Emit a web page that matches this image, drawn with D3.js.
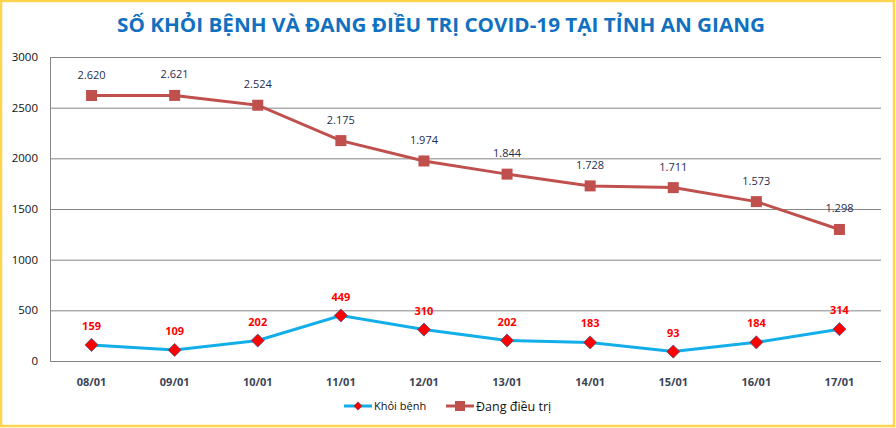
<!DOCTYPE html>
<html>
<head>
<meta charset="utf-8">
<script src="https://cdn.jsdelivr.net/npm/d3@7"></script>
<style>
body { margin: 0; background: #fff; }
svg { display: block; }
</style>
</head>
<body>
<svg id="chart" width="896" height="428"></svg>
<script>
const days = ['08/01','09/01','10/01','11/01','12/01','13/01','14/01','15/01','16/01','17/01'];
const recovered = [159, 109, 202, 449, 310, 202, 183, 93, 184, 314];
const treating = [2620, 2621, 2524, 2175, 1974, 1844, 1728, 1711, 1573, 1298];
const yTicks = [0, 500, 1000, 1500, 2000, 2500, 3000];

const svg = d3.select('#chart');
const W = 896, H = 428;
const margin = {top: 57, right: 15, bottom: 67, left: 50};

// yellow frame
svg.append('rect')
	.attr('x', 1).attr('y', 1)
	.attr('width', W - 3).attr('height', H - 3)
	.style('fill', '#fff')
	.style('stroke', '#FFD54F')
	.style('stroke-width', 2.5);

svg.append('text')
	.attr('x', 441).attr('y', 32)
	.style('text-anchor', 'middle')
	.style('font-family', 'Open Sans, sans-serif')
	.style('font-weight', 'bold')
	.style('font-size', '20px')
	.style('fill', '#1170C0')
	.attr('textLength', 648)
	.attr('lengthAdjust', 'spacingAndGlyphs')
	.text('SỐ KHỎI BỆNH VÀ ĐANG ĐIỀU TRỊ COVID-19 TẠI TỈNH AN GIANG');

const x = d3.scaleBand()
	.domain(days)
	.range([margin.left, W - margin.right]);

const y = d3.scaleLinear()
	.domain([0, 3000])
	.range([H - margin.bottom, margin.top]);

const cx = function(d, i){ return x(days[i]) + x.bandwidth() / 2 };

// grid
svg.append('g')
	.selectAll('line')
	.data(yTicks)
	.enter().append('line')
	.attr('x1', margin.left).attr('x2', W - margin.right)
	.attr('y1', function(d){ return y(d) + 0.5 })
	.attr('y2', function(d){ return y(d) + 0.5 })
	.style('stroke', '#868686')
	.style('stroke-width', 1);

svg.append('line')
	.attr('x1', margin.left + 0.5).attr('x2', margin.left + 0.5)
	.attr('y1', y(3000)).attr('y2', y(0))
	.style('stroke', '#868686');

// y labels
svg.append('g')
	.selectAll('text')
	.data(yTicks)
	.enter().append('text')
	.attr('x', 38)
	.attr('y', function(d){ return y(d) + 4 })
	.style('text-anchor', 'end')
	.style('font-family', 'Open Sans, sans-serif')
	.style('font-size', '11.5px')
	.style('fill', '#111')
	.text(function(d){ return d });

// x labels
svg.append('g')
	.selectAll('text')
	.data(days)
	.enter().append('text')
	.attr('x', function(d){ return x(d) + x.bandwidth() / 2 })
	.attr('y', 386)
	.style('text-anchor', 'middle')
	.style('font-family', 'Open Sans, sans-serif')
	.style('font-weight', 'bold')
	.style('font-size', '11px')
	.style('fill', '#3b4455')
	.text(function(d){ return d });

const line = d3.line()
	.x(cx)
	.y(function(d){ return y(d) });

// treating series
svg.append('path')
	.datum(treating)
	.attr('d', line)
	.style('fill', 'none')
	.style('stroke', '#C0504D')
	.style('stroke-width', 3);

svg.append('g')
	.selectAll('rect')
	.data(treating)
	.enter().append('rect')
	.attr('x', function(d, i){ return cx(d, i) - 5.5 })
	.attr('y', function(d){ return y(d) - 5.5 })
	.attr('width', 11).attr('height', 11)
	.style('fill', '#C0504D');

svg.append('g')
	.selectAll('text')
	.data(treating)
	.enter().append('text')
	.attr('x', cx)
	.attr('y', function(d){ return y(d) - 17 })
	.style('text-anchor', 'middle')
	.style('font-family', 'Open Sans, sans-serif')
	.style('font-size', '11px')
	.style('fill', '#1F2D4D')
	.text(function(d){ return d3.format(',')(d).replace(',', '.') });

// recovered series
svg.append('path')
	.datum(recovered)
	.attr('d', line)
	.style('fill', 'none')
	.style('stroke', '#12AEEA')
	.style('stroke-width', 3);

const diamond = d3.symbol().type(d3.symbolDiamond2).size(110);

svg.append('g')
	.selectAll('path')
	.data(recovered)
	.enter().append('path')
	.attr('d', diamond)
	.attr('transform', function(d, i){ return 'translate(' + cx(d, i) + ',' + y(d) + ')' })
	.style('fill', '#FF0000')
	.style('stroke', '#4A5A8A')
	.style('stroke-width', 0.8);

svg.append('g')
	.selectAll('text')
	.data(recovered)
	.enter().append('text')
	.attr('x', cx)
	.attr('y', function(d){ return y(d) - 15 })
	.style('text-anchor', 'middle')
	.style('font-family', 'Open Sans, sans-serif')
	.style('font-weight', 'bold')
	.style('font-size', '11px')
	.style('fill', '#FF0000')
	.text(function(d){ return d });

// legend
const lg = svg.append('g');
lg.append('line')
	.attr('x1', 344).attr('x2', 372).attr('y1', 406).attr('y2', 406)
	.style('stroke', '#12AEEA').style('stroke-width', 3);
lg.append('path')
	.attr('d', d3.symbol().type(d3.symbolDiamond2).size(45))
	.attr('transform', 'translate(358,406)')
	.style('fill', '#FF0000').style('stroke', '#4A5A8A').style('stroke-width', 0.6);
lg.append('text')
	.attr('x', 374).attr('y', 410)
	.style('font-family', 'Open Sans, sans-serif')
	.style('font-size', '11px')
	.style('fill', '#111')
	.text('Khỏi bệnh');
lg.append('line')
	.attr('x1', 446).attr('x2', 474).attr('y1', 406).attr('y2', 406)
	.style('stroke', '#C0504D').style('stroke-width', 3);
lg.append('rect')
	.attr('x', 455).attr('y', 401).attr('width', 10).attr('height', 10)
	.style('fill', '#C0504D');
lg.append('text')
	.attr('x', 476).attr('y', 411)
	.style('font-family', 'Open Sans, sans-serif')
	.style('font-size', '12.5px')
	.style('fill', '#111')
	.text('Đang điều trị');
</script>
</body>
</html>
